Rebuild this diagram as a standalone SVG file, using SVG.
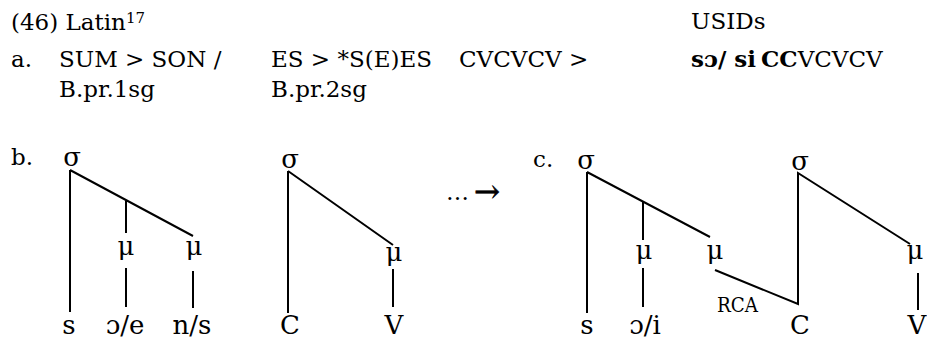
<svg xmlns="http://www.w3.org/2000/svg" width="927" height="339" viewBox="0 0 927 339">
<style>
text{font-family:"DejaVu Serif","Liberation Serif",serif;fill:#000}
.t{font-size:23px}
.n{font-size:26px;text-anchor:middle}
.b{font-weight:bold}
.sup{font-size:15px}
.ln{stroke:#000;stroke-width:2;fill:none;stroke-linecap:butt}
</style>
<rect width="927" height="339" fill="#fff"/>
<g id="header">
<text class="t" x="11" y="30">(46) Latin<tspan class="sup" dy="-7">17</tspan></text>
<text class="t" x="691" y="29">USIDs</text>
<text class="t" x="11" y="67">a.</text>
<text class="t" x="59" y="67">SUM &gt; SON /</text>
<text class="t" x="271" y="67">ES &gt; *S(E)ES</text>
<text class="t" x="459" y="67">CVCVCV</text>
<text class="t" x="569" y="67">&gt;</text>
<text class="t" x="691" y="67"><tspan class="b">sɔ/ si</tspan><tspan x="761" class="b">CC</tspan>VCVCV</text>
<text class="t" x="59" y="97">B.pr.1sg</text>
<text class="t" x="271" y="97">B.pr.2sg</text>
<text class="t" x="11" y="165">b.</text>
<text class="t" x="533" y="167">c.</text>
<text class="t" x="446" y="200">…</text>
<text x="474" y="202" style="font-size:31px;stroke:#000;stroke-width:0.6">→</text>
</g>
<g id="connectors">
<path class="ln" d="M70,170V312M70,170L193,236M126,200V233M126,268V307M193,271V308"/>
<path class="ln" d="M288,171V313M288,171L393,245M393,269V307"/>
<path class="ln" d="M587,172V313M587,172L710,237M643,202V240M643,268V307"/>
<path class="ln" d="M715,270L798,304V173L910,244M918,273V310"/>
</g>
<g id="tree-b1">
<text class="n" x="72" y="166">σ</text>
<text class="n" x="126" y="255">μ</text>
<text class="n" x="194" y="255">μ</text>
<text class="n" x="69" y="334">s</text>
<text class="n" x="125" y="334">ɔ/e</text>
<text class="n" x="192" y="334">n/s</text>
</g>
<g id="tree-b2">
<text class="n" x="290" y="168">σ</text>
<text class="n" x="394" y="261">μ</text>
<text class="n" x="290" y="334">C</text>
<text class="n" x="394" y="334">V</text>
</g>
<g id="tree-c">
<text class="n" x="586" y="169">σ</text>
<text class="n" x="644" y="259">μ</text>
<text class="n" x="715" y="259">μ</text>
<text class="n" x="587" y="334">s</text>
<text class="n" x="645" y="334">ɔ/i</text>
<text x="717" y="312" style="font-size:20px" textLength="41" lengthAdjust="spacingAndGlyphs">RCA</text>
<text class="n" x="800" y="170">σ</text>
<text class="n" x="915" y="259">μ</text>
<text class="n" x="800" y="334">C</text>
<text class="n" x="917" y="334">V</text>
</g>
</svg>
